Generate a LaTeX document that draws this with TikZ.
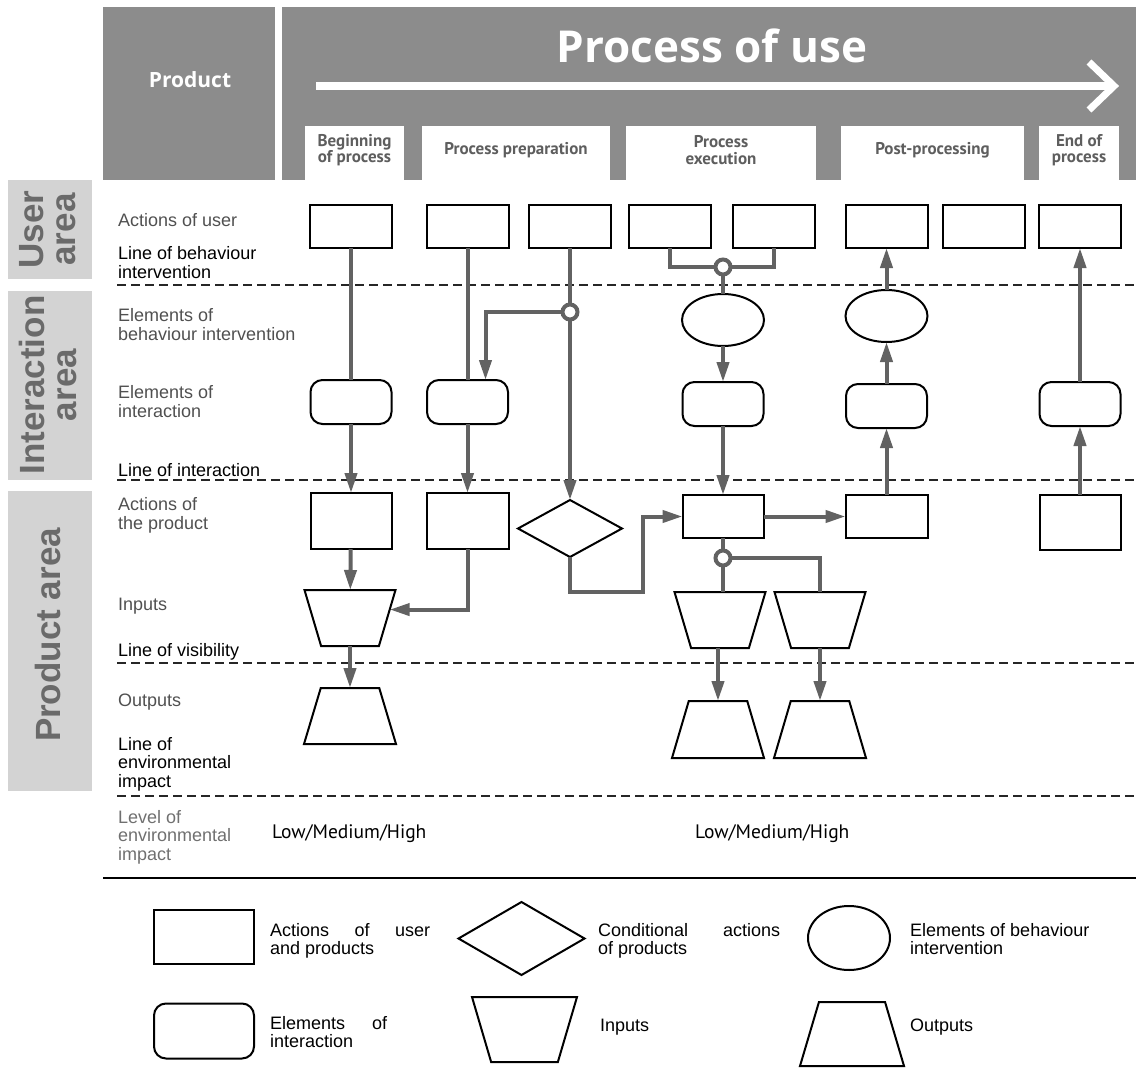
\documentclass[tikz,border=0pt]{standalone}
\usepackage{fontspec}
\setmainfont{Liberation Sans}
\newfontfamily\myriad{PT Sans}
\newfontfamily\headfont{Open Sans}
\usetikzlibrary{shapes.geometric,arrows.meta}
\definecolor{hdgray}{HTML}{8C8C8C}
\definecolor{areagray}{HTML}{D3D3D3}
\definecolor{areatext}{HTML}{6A6A6A}
\definecolor{cgray}{HTML}{626262}
\definecolor{lbgray}{HTML}{505050}
\definecolor{lvgray}{HTML}{707070}
\definecolor{subgray}{HTML}{5E5E5E}
\begin{document}
\begin{tikzpicture}
	[x=1pt,y=-1pt,
	shp/.style={draw=black,line width=2pt,fill=white,inner sep=0pt,outer sep=0pt},
	act/.style={shp,rectangle,minimum width=82pt,minimum height=43pt},
	inter/.style={shp,rectangle,rounded corners=12pt,minimum width=81pt,minimum height=44pt},
	behav/.style={shp,ellipse,minimum width=82pt,minimum height=52pt},
	cond/.style={shp,diamond,minimum width=104pt,minimum height=57pt},
	inbox/.style={shp,trapezium,inner sep=1pt,trapezium left angle=74,trapezium right angle=74,shape border rotate=180,trapezium stretches=true,minimum width=91pt,minimum height=56pt},
	outbox/.style={shp,trapezium,inner sep=1pt,trapezium left angle=74,trapezium right angle=74,trapezium stretches=true,minimum width=92pt,minimum height=56pt},
	joint/.style={circle,draw=cgray,line width=4pt,fill=white,inner sep=0pt,minimum size=15pt},
	conn/.style={draw=cgray,line width=4pt},
	sep/.style={draw=black!85,line width=1.6pt,dash pattern=on 9pt off 5pt},
	lbl/.style={anchor=base west,align=left,inner sep=0pt,font=\fontsize{18}{18.5}\selectfont},
	sub/.style={align=center,inner sep=0pt,text=subgray,font=\myriad\bfseries\fontsize{17}{16.5}\selectfont},
	area/.style={rotate=90,align=center,inner sep=0pt,text=areatext,font=\bfseries\fontsize{35}{32}\selectfont},
	>={Triangle[length=20pt,width=12pt]}]
	\useasboundingbox (0,0) rectangle (1136,1068);
	% header
	\fill[hdgray] (103,7) rectangle (275,180);
	\fill[hdgray] (282,7) rectangle (1136,180);
	\node[anchor=base,text=white,font=\headfont\bfseries\fontsize{21}{21}\selectfont] (prod) at (190,87) {Product};
	\node[anchor=base,text=white,font=\headfont\bfseries\fontsize{44}{44}\selectfont] (use) at (712,62) {Process of use};
	\draw[white,line width=8pt] (316,86) -- (1112,86);
	\draw[white,line width=7pt,line join=miter] (1089,62) -- (1114,86) -- (1089,110);
	\fill[white] (305,126) rectangle (404,180);
	\fill[white] (422,126) rectangle (610,180);
	\fill[white] (626,126) rectangle (816,180);
	\fill[white] (841,126) rectangle (1024,180);
	\fill[white] (1039,126) rectangle (1119,180);
	\node[sub] (s1) at (354.5,150) {Beginning\\of process};
	\node[sub,anchor=base] (s2) at (516,154) {Process preparation};
	\node[sub] (s3) at (721,150) {Process\\execution};
	\node[sub,anchor=base] (s4) at (932.5,154) {Post-processing};
	\node[sub] (s5) at (1079,150) {End of\\process};
	% areas
	\fill[areagray] (8,180) rectangle (92,279);
	\fill[areagray] (8,291) rectangle (92,480);
	\fill[areagray] (8,491) rectangle (92,791);
	\node[area] (ua) at (48,229.5) {User\\area};
	\node[area] (ia) at (48,385) {Interaction\\area};
	\node[area] (pa) at (48,635) {Product area};
	% row labels (base = last line)
	\node[lbl,text=lbgray] at (118,226) {Actions of user};
	\node[lbl] at (118,278) {Line of behaviour\\intervention};
	\node[lbl,text=lbgray] at (118,340) {Elements of\\behaviour intervention};
	\node[lbl,text=lbgray] at (118,417) {Elements of\\interaction};
	\node[lbl] at (118,476) {Line of interaction};
	\node[lbl,text=lbgray] at (118,529) {Actions of\\the product};
	\node[lbl,text=lbgray] at (118,610) {Inputs};
	\node[lbl] at (118,656) {Line of visibility};
	\node[lbl,text=lbgray] at (118,706) {Outputs};
	\node[lbl] at (118,787) {Line of\\environmental\\impact};
	\node[lbl,text=lvgray] at (118,860) {Level of\\environmental\\impact};
	\node[lbl,font=\myriad\fontsize{19.5}{19.5}\selectfont] (lv1) at (272,838) {Low/Medium/High};
	\node[lbl,font=\myriad\fontsize{19.5}{19.5}\selectfont] (lv2) at (695,838) {Low/Medium/High};
	% separating lines
	\draw[sep] (117,285) -- (1136,285);
	\draw[sep] (117,480) -- (1136,480);
	\draw[sep] (117,663) -- (1136,663);
	\draw[sep] (117,796) -- (1136,796);
	\draw[line width=2.5pt] (103,878) -- (1136,878);
	% actions of user
	\node[act] (u1) at (351,226.5) {};
	\node[act] (u2) at (467.5,226.5) {};
	\node[act] (u3) at (570,226.5) {};
	\node[act] (u4) at (670,226.5) {};
	\node[act] (u5) at (774,226.5) {};
	\node[act] (u6) at (886.5,226.5) {};
	\node[act] (u7) at (983.5,226.5) {};
	\node[act] (u8) at (1080,226.5) {};
	% behaviour intervention
	\node[behav] (e1) at (723,320) {};
	\node[behav] (e2) at (886.5,316) {};
	% interaction
	\node[inter] (r1) at (351,402) {};
	\node[inter] (r2) at (467.5,402) {};
	\node[inter] (r3) at (723,404) {};
	\node[inter] (r4) at (886.5,406) {};
	\node[inter] (r5) at (1080,404) {};
	% actions of the product
	\node[act,minimum width=81pt,minimum height=56pt] (p1) at (351,521) {};
	\node[act,minimum height=56pt] (p2) at (467.5,521) {};
	\node[cond] (d1) at (570,528.5) {};
	\node[act,minimum width=81pt] (p3) at (723,516.5) {};
	\node[act] (p4) at (886.5,516.5) {};
	\node[act,minimum width=81pt,minimum height=55pt] (p5) at (1080,522.5) {};
	% inputs and outputs
	\node[inbox] (i1) at (350,618) {};
	\node[inbox] (i2) at (720,620) {};
	\node[inbox] (i3) at (820,620) {};
	\node[outbox] (o1) at (350,716) {};
	\node[outbox,minimum height=57pt] (o2) at (718,729.5) {};
	\node[outbox,minimum height=57pt] (o3) at (820,729.5) {};
	\coordinate (j1) at (570,312);
	\coordinate (j2) at (723,267);
	\coordinate (j3) at (723,558);
	% connectors
	\draw[conn] (u1) -- (r1);
	\draw[conn,->] (r1) -- (p1);
	\draw[conn,->] (p1) -- (i1);
	\draw[conn,->] (i1) -- (o1);
	\draw[conn] (u2) -- (r2);
	\draw[conn,->] (r2) -- (p2);
	\draw[conn,->] (p2.south) |- (i1.12);
	\draw[conn,->] (u3) -- (d1);
	\draw[conn,->] (j1) -| ([xshift=18pt]r2.north);
	\draw[conn,->] (d1.south) -- ++(0,35) -| ([xshift=-40pt]p3.west) -- (p3.west);
	\draw[conn] (u4.south) |- (j2) -| (u5.south);
	\draw[conn] (j2) -- (e1);
	\draw[conn,->] (e1) -- (r3);
	\draw[conn,->] (r3) -- (p3);
	\draw[conn,->] (p3) -- (p4);
	\draw[conn] (p3.south) -- (j3);
	\draw[conn] (j3) -- (j3 |- i2.north);
	\draw[conn] (j3) -| (i3.north);
	\draw[conn,->] (o2 |- i2.south) -- (o2.north);
	\draw[conn,->] (i3) -- (o3);
	\draw[conn,->] (p4) -- (r4);
	\draw[conn,->] (r4) -- (e2);
	\draw[conn,->] (e2) -- (u6);
	\draw[conn,->] (p5) -- (r5);
	\draw[conn,->] (r5) -- (u8);
	\node[joint] (k1) at (j1) {};
	\node[joint] (k2) at (j2) {};
	\node[joint] (k3) at (j3) {};
	% legend
	\node[act,minimum width=100pt,minimum height=54pt] (la) at (204,937) {};
	\node[cond,minimum width=126pt,minimum height=73pt] (lc) at (521.5,938.5) {};
	\node[behav,minimum width=82pt,minimum height=64pt] (lb) at (849,938) {};
	\node[inter,minimum width=100pt,minimum height=55pt] (li) at (204,1031) {};
	\node[inbox,minimum width=105pt,minimum height=65pt] (ln) at (524.5,1029.5) {};
	\node[outbox,minimum width=104pt,minimum height=64pt] (lo) at (852,1034) {};
	\node[lbl] at (270,954.5) {\makebox[160pt][s]{Actions of user}\\and products};
	\node[lbl] at (598,954.5) {\makebox[182pt][s]{Conditional actions}\\of products};
	\node[lbl] at (910,954.5) {Elements of behaviour\\intervention};
	\node[lbl] at (270,1047.5) {\makebox[117pt][s]{Elements of}\\interaction};
	\node[lbl] at (600,1031) {Inputs};
	\node[lbl] at (910,1031) {Outputs};
\end{tikzpicture}
\end{document}
